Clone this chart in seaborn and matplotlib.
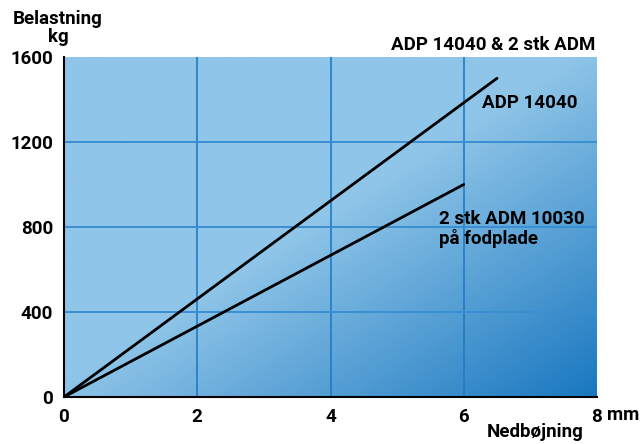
import numpy as np
import pandas as pd
import seaborn as sns
import matplotlib.pyplot as plt
from matplotlib.colors import LinearSegmentedColormap

# data
adp_x = [0, 6.5]
adp_y = [0, 1500]
adm_x = [0, 6]
adm_y = [0, 1000]
x_ticks = [0, 2, 4, 6, 8]
y_ticks = [0, 400, 800, 1200, 1600]

sns.set_style('white')
plt.rcParams['font.family'] = ['Roboto', 'DejaVu Sans']
plt.rcParams['font.weight'] = 'bold'
plt.rcParams['text.color'] = 'black'
plt.rcParams['xtick.color'] = 'black'
plt.rcParams['ytick.color'] = 'black'
FS = 13.5

fig = plt.figure(figsize=(6.44, 4.44), dpi=100)
ax = fig.add_axes([64 / 644, 47 / 444, 533 / 644, 340 / 444])

# diagonal blue gradient background
cmap = LinearSegmentedColormap.from_list('bg', [(0, '#8fc5e8'), (0.48, '#8fc5e8'), (1, '#1a78c0')])
nx, ny = 300, 200
gx, gy = np.meshgrid(np.linspace(0, 1, nx), np.linspace(0, 1, ny))
grad = (gx + gy) / 2
ax.imshow(grad, cmap=cmap, extent=[0, 1, 0, 1], transform=ax.transAxes,
          origin='upper', aspect='auto', zorder=0, vmin=0, vmax=1)

df_adp = pd.DataFrame({'x': adp_x, 'y': adp_y})
df_adm = pd.DataFrame({'x': adm_x, 'y': adm_y})
sns.lineplot(data=df_adp, x='x', y='y', ax=ax, color='black', lw=2, zorder=3)
sns.lineplot(data=df_adm, x='x', y='y', ax=ax, color='black', lw=2, zorder=3)

ax.set_xlim(0, 8)
ax.set_ylim(0, 1600)
ax.set_xticks(x_ticks)
ax.set_yticks(y_ticks)
ax.set_xticklabels([str(v) for v in x_ticks])
ax.set_yticklabels([str(v) for v in y_ticks])
ax.set_xlabel('')
ax.set_ylabel('')

for v in x_ticks[1:-1]:
    ax.axvline(v, color='#1f7bc6', lw=1.2, zorder=1)
for v in y_ticks[1:-1]:
    ax.axhline(v, color='#3a8fd2', lw=1.4, zorder=1)

ax.tick_params(direction='in', length=7, width=3, color='black',
               labelsize=FS, pad=8)
for lab in ax.get_xticklabels() + ax.get_yticklabels():
    lab.set_fontweight('bold')
for s in ['top', 'right']:
    ax.spines[s].set_visible(False)
for s in ['left', 'bottom']:
    ax.spines[s].set_color('black')
    ax.spines[s].set_linewidth(1.5)

fig.text(58 / 644, 1 - 28 / 444, 'Belastning\nkg', ha='center', va='center',
         fontsize=FS, fontweight='bold', linespacing=0.95)
fig.text(595 / 644, 1 - 45 / 444, 'ADP 14040 & 2 stk ADM', ha='right', va='center',
         fontsize=FS, fontweight='bold')
fig.text(607 / 644, 1 - 415 / 444, 'mm', ha='left', va='center',
         fontsize=FS, fontweight='bold')
fig.text(535 / 644, 1 - 432 / 444, 'Nedbøjning', ha='center', va='center',
         fontsize=FS, fontweight='bold')
ax.text(6.28, 1385, 'ADP 14040', ha='left', va='center', fontsize=FS, fontweight='bold')
ax.text(5.63, 790, '2 stk ADM 10030\npå fodplade', ha='left', va='center',
        fontsize=FS, fontweight='bold', linespacing=1.05)

fig.savefig('out.png', dpi=100)
